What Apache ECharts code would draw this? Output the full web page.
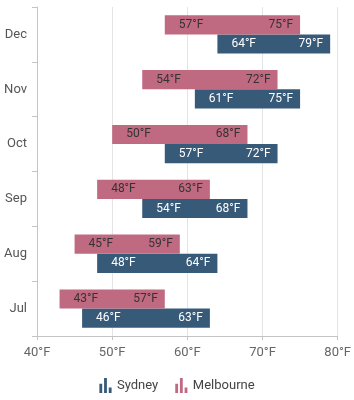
<!DOCTYPE html>
<html>
<head>
<meta charset="utf-8">
<script src="https://cdn.jsdelivr.net/npm/echarts@6/dist/echarts.min.js"></script>
<style>
  html, body { margin: 0; padding: 0; background: #fff; }
  #chart { width: 354px; height: 400px; }
</style>
</head>
<body>
<div id="chart"></div>
<script>
const months = ['Jul', 'Aug', 'Sep', 'Oct', 'Nov', 'Dec']
const sydneyLow = [46, 48, 54, 57, 61, 64]
const sydneyHigh = [63, 64, 68, 72, 75, 79]
const melbourneLow = [43, 45, 48, 50, 54, 57]
const melbourneHigh = [57, 59, 63, 68, 72, 75]
const xTicks = [40, 50, 60, 70, 80]

const barIcon = 'path://M0,6h3v10h-3z M5,0h3v16h-3z M10,10h3v6h-3z'

// side: 1 = below band centre, -1 = above
const makeRenderer = (side, textColor) => (params, api) => {
  const cat = api.value(0)
  const start = api.coord([api.value(1), cat])
  const end = api.coord([api.value(2), cat])
  const bandH = api.size([0, 1])[1]
  const barH = bandH * 0.35
  const y = side > 0 ? start[1] : start[1] - barH
  const font = { fontSize: 12, fontFamily: 'Roboto', fill: textColor, verticalAlign: 'middle' }
  return {
    type: 'group',
    children: [
      {
        type: 'rect',
        shape: { x: start[0], y: y, width: end[0] - start[0], height: barH },
        style: { fill: api.visual('color') }
      },
      {
        type: 'text',
        style: Object.assign({ text: api.value(1) + '°F', x: start[0] + 14, y: y + barH / 2, align: 'left' }, font)
      },
      {
        type: 'text',
        style: Object.assign({ text: api.value(2) + '°F', x: end[0] - 7, y: y + barH / 2, align: 'right' }, font)
      }
    ]
  }
}

const chart = echarts.init(document.getElementById('chart'))
chart.setOption({
  animation: false,
  textStyle: { fontFamily: 'Roboto' },
  grid: { left: 37, right: 12, top: 7, bottom: 64, containLabel: false },
  legend: {
    bottom: 2,
    left: 'center',
    itemWidth: 13,
    itemHeight: 15,
    itemGap: 17,
    textStyle: { color: '#444', fontSize: 13, fontFamily: 'Roboto' },
    data: [
      { name: 'Sydney', icon: barIcon },
      { name: 'Melbourne', icon: barIcon }
    ]
  },
  xAxis: {
    type: 'value',
    min: xTicks[0],
    max: xTicks[xTicks.length - 1],
    interval: 10,
    axisLine: { show: true, lineStyle: { color: '#c4c4c4' } },
    axisTick: { show: true, length: 4, lineStyle: { color: '#c4c4c4' } },
    axisLabel: { color: '#666', fontSize: 13, formatter: v => v + '°F', margin: 10 },
    splitLine: { show: true, lineStyle: { color: '#e4e4e4' } }
  },
  yAxis: {
    type: 'category',
    data: months,
    axisLine: { show: true, lineStyle: { color: '#c4c4c4' } },
    axisTick: { show: true, length: 5, lineStyle: { color: '#c4c4c4' } },
    axisLabel: { color: '#555', fontSize: 13, margin: 10 },
    splitLine: { show: false }
  },
  series: [
    {
      name: 'Sydney',
      type: 'custom',
      itemStyle: { color: '#375a79' },
      renderItem: makeRenderer(1, '#ffffff'),
      encode: { x: [1, 2], y: 0 },
      data: months.map((m, i) => [i, sydneyLow[i], sydneyHigh[i]])
    },
    {
      name: 'Melbourne',
      type: 'custom',
      itemStyle: { color: '#c06a82' },
      renderItem: makeRenderer(-1, '#333333'),
      encode: { x: [1, 2], y: 0 },
      data: months.map((m, i) => [i, melbourneLow[i], melbourneHigh[i]])
    }
  ]
})
</script>
</body>
</html>
